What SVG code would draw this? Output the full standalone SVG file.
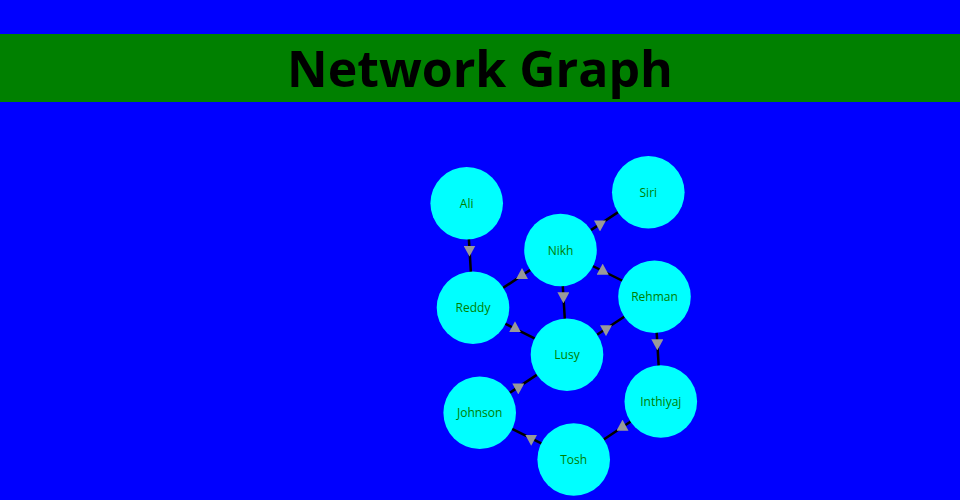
<svg xmlns="http://www.w3.org/2000/svg" width="960" height="500" viewBox="0 0 960 500">
  <style>
    .title { font-family: "Open Sans", "Liberation Sans", sans-serif; font-weight: bold; font-size: 50px; fill: #000000; }
    .node circle { fill: #00ffff; }
    .node text { font-family: "Open Sans", "Liberation Sans", sans-serif; font-size: 12px; fill: #008000; text-anchor: middle; }
    .link { fill: none; stroke: #000000; stroke-width: 2.5; }
    .down { marker-mid: url(#arrowDown); }
    .up { marker-mid: url(#arrowUp); }
  </style>
  <defs>
    <marker id="arrowDown" viewBox="0 0 12 11" markerUnits="userSpaceOnUse" markerWidth="12" markerHeight="11" refX="6" refY="3.67" orient="0">
      <path d="M0,0 L12,0 L6,11 Z" fill="#999999"/>
    </marker>
    <marker id="arrowUp" viewBox="0 0 12 11" markerUnits="userSpaceOnUse" markerWidth="12" markerHeight="11" refX="6" refY="7.33" orient="0">
      <path d="M6,0 L12,11 L0,11 Z" fill="#999999"/>
    </marker>
  </defs>
  <rect x="0" y="0" width="960" height="500" fill="#0000ff"/>
  <g id="header">
    <rect x="0" y="34" width="960" height="68" fill="#008000"/>
    <text class="title" x="480" y="87" text-anchor="middle">Network Graph</text>
  </g>
  <g id="connectors">
    <path class="link down" d="M466.7,203.3 L469.5,249.2 L473,307.7"/>
    <path class="link down" d="M648.3,192.3 L600,224.1 L560.5,250"/>
    <path class="link up" d="M473,307.7 L522,275.4 L560.5,250"/>
    <path class="link up" d="M654.5,296.7 L602.7,271 L560.5,250"/>
    <path class="link down" d="M560.5,250 L563.4,296 L567,354.7"/>
    <path class="link up" d="M567,354.7 L515,328.7 L473,307.7"/>
    <path class="link down" d="M654.5,296.7 L606,328.8 L567,354.7"/>
    <path class="link down" d="M654.5,296.7 L657.3,343 L660.8,401.5"/>
    <path class="link down" d="M567,354.7 L518.3,387.1 L479.7,412.8"/>
    <path class="link down" d="M479.7,412.8 L531.2,438.4 L573.7,459.5"/>
    <path class="link up" d="M573.7,459.5 L622.5,427 L660.8,401.5"/>
  </g>
  <g id="node-ali" class="node"><circle cx="466.7" cy="203.3" r="36.3"/><text x="466.7" y="207.8">Ali</text></g>
  <g id="node-siri" class="node"><circle cx="648.3" cy="192.3" r="36.3"/><text x="648.3" y="196.8">Siri</text></g>
  <g id="node-nikh" class="node"><circle cx="560.5" cy="250" r="36.3"/><text x="560.5" y="254.5">Nikh</text></g>
  <g id="node-reddy" class="node"><circle cx="473" cy="307.7" r="36.3"/><text x="473" y="312.2">Reddy</text></g>
  <g id="node-rehman" class="node"><circle cx="654.5" cy="296.7" r="36.3"/><text x="654.5" y="301.2">Rehman</text></g>
  <g id="node-lusy" class="node"><circle cx="567" cy="354.7" r="36.3"/><text x="567" y="359.2">Lusy</text></g>
  <g id="node-johnson" class="node"><circle cx="479.7" cy="412.8" r="36.3"/><text x="479.7" y="417.3">Johnson</text></g>
  <g id="node-inthiyaj" class="node"><circle cx="660.8" cy="401.5" r="36.3"/><text x="660.8" y="406">Inthiyaj</text></g>
  <g id="node-tosh" class="node"><circle cx="573.7" cy="459.5" r="36.3"/><text x="573.7" y="464">Tosh</text></g>
</svg>
